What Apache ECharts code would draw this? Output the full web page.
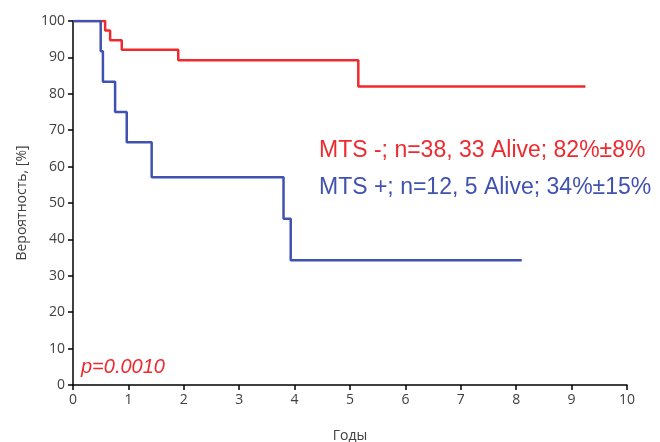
<!DOCTYPE html>
<html><head><meta charset="utf-8">
<script src="https://cdn.jsdelivr.net/npm/echarts@6/dist/echarts.min.js"></script>
<style>html,body{margin:0;padding:0;background:#fff}#c{width:660px;height:442px}</style>
</head><body><div id="c"></div>
<script>
const redTimes = [0, 0.58, 0.67, 0.88, 1.9, 5.15, 9.25];
const redSurv  = [100, 97.4, 94.7, 92.1, 89.2, 82.0, 82.0];
const blueTimes = [0, 0.50, 0.54, 0.76, 0.97, 1.42, 3.80, 3.93, 8.1];
const blueSurv  = [100, 91.7, 83.3, 75.0, 66.7, 57.1, 45.7, 34.3, 34.3];
const redLabel = 'MTS -; n=38, 33 Alive; 82%±8%';
const blueLabel = 'MTS +; n=12, 5 Alive; 34%±15%';
const pText = 'p=0.0010';
const RED = '#ee2a2e', BLUE = '#3f52b2';
const FONT = '"Open Sans", "Noto Sans", sans-serif';
const AFONT = '"Liberation Sans", Arial, sans-serif';

const chart = echarts.init(document.getElementById('c'), null, {renderer:'canvas'});
const zip = (a,b) => a.map((v,i)=>[v,b[i]]);
chart.setOption({
  animation:false,
  backgroundColor:'#fff',
  grid:{left:73, right:33, top:21, bottom:57, outerBoundsMode:'none', containLabel:false},
  xAxis:{type:'value', min:0, max:10, interval:1,
    name:'Годы', nameLocation:'middle', nameGap:44,
    nameTextStyle:{color:'#404040', fontSize:14, fontFamily:FONT},
    axisLine:{lineStyle:{color:'#000', width:1.5}},
    axisTick:{show:true, length:5, lineStyle:{color:'#000', width:1.5}},
    axisLabel:{color:'#404040', fontSize:14, fontFamily:FONT, margin:8},
    splitLine:{show:false}},
  yAxis:{type:'value', min:0, max:100, interval:10,
    name:'Вероятность, [%]', nameLocation:'middle', nameGap:44, nameRotate:90,
    nameTextStyle:{color:'#404040', fontSize:14, fontFamily:FONT},
    axisLine:{show:true, lineStyle:{color:'#000', width:1.5}},
    axisTick:{show:true, length:5, lineStyle:{color:'#000', width:1.5}},
    axisLabel:{color:'#404040', fontSize:14, fontFamily:FONT, margin:8},
    splitLine:{show:false}},
  series:[
    {type:'line', step:'end', data:zip(redTimes, redSurv), showSymbol:false, symbol:'none',
     lineStyle:{color:RED, width:2.5}, z:3},
    {type:'line', step:'end', data:zip(blueTimes, blueSurv), showSymbol:false, symbol:'none',
     lineStyle:{color:BLUE, width:2.5}, z:4}
  ],
  graphic:[
    {type:'text', left:319, top:139, style:{text:redLabel, fill:RED, font:'23px '+AFONT}},
    {type:'text', left:319, top:176, style:{text:blueLabel, fill:BLUE, font:'23px '+AFONT}},
    {type:'text', left:81, top:357, style:{text:pText, fill:RED, font:'italic 20px '+AFONT}}
  ]
});
</script></body></html>
